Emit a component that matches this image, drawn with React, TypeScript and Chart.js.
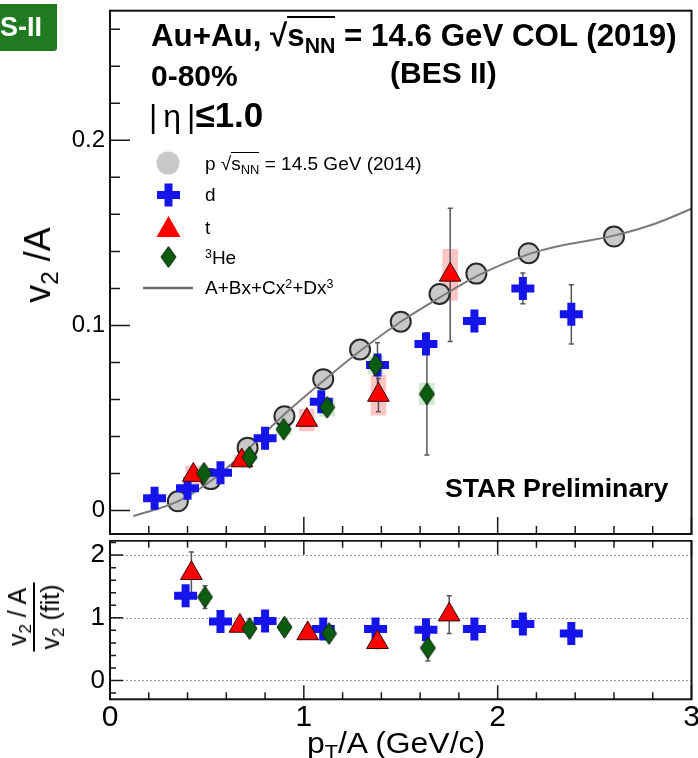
import React, { useEffect, useRef } from "react";
import { Chart, registerables } from "chart.js";

Chart.register(...registerables);

// ---------------- data ----------------
const xTickValues = [0, 1, 2, 3];
const xTickLabels = ["0", "1", "2", "3"];
const topYTickValues = [0, 0.1, 0.2];
const topYTickLabels = ["0", "0.1", "0.2"];
const ratioYTickValues = [0, 1, 2];
const ratioYTickLabels = ["0", "1", "2"];

// proton v2/A (14.5 GeV, 2014)
const protonPt = [0.35, 0.52, 0.71, 0.9, 1.1, 1.29, 1.5, 1.7, 1.89, 2.16, 2.6];
const protonV2 = [0.005, 0.017, 0.034, 0.051, 0.071, 0.087, 0.102, 0.117, 0.128, 0.139, 0.148];

// fit curve A+Bx+Cx^2+Dx^3
const fitPt = [0.12, 0.35, 0.52, 0.71, 0.9, 1.1, 1.3, 1.5, 1.7, 1.9, 2.16, 2.3, 2.45, 2.6, 2.8, 3.0];
const fitV2 = [-0.003, 0.005, 0.016, 0.033, 0.052, 0.07, 0.087, 0.102, 0.115, 0.127, 0.1385, 0.1425, 0.1455, 0.1485, 0.1545, 0.163];

// deuteron
const dPt = [0.23, 0.4, 0.57, 0.8, 1.09, 1.38, 1.63, 1.88, 2.13, 2.38];
const dV2 = [0.0066, 0.012, 0.0204, 0.039, 0.0588, 0.0786, 0.09, 0.1024, 0.12, 0.106];
const dErr = [0.001, 0.001, 0.001, 0.002, 0.003, 0.012, 0.004, 0.004, 0.0083, 0.016];

// triton
const tPt = [0.43, 0.68, 1.015, 1.385, 1.755];
const tV2 = [0.0192, 0.027, 0.0489, 0.0624, 0.1273];
const tErr = [0.002, 0.002, 0.003, 0.009, 0.036];
const tSys = [0.005, 0.003, 0.006, 0.011, 0.014];

// 3He
const hePt = [0.485, 0.72, 0.896, 1.12, 1.37, 1.635];
const heV2 = [0.0201, 0.0288, 0.0439, 0.0558, 0.0786, 0.063];
const heErr = [0.002, 0.002, 0.002, 0.003, 0.004, 0.033];
const heSys = [0.002, 0.002, 0.003, 0.005, 0.005, 0.006];

// ratio panel v2/A / v2(fit)
const rdPt = [0.39, 0.57, 0.8, 1.1, 1.37, 1.63, 1.88, 2.13, 2.38];
const rdVal = [1.35, 0.94, 0.95, 0.82, 0.82, 0.81, 0.82, 0.9, 0.75];
const rdErr = [0.05, 0.04, 0.04, 0.05, 0.1, 0.05, 0.04, 0.06, 0.1];

const rtPt = [0.42, 0.67, 1.02, 1.38, 1.75];
const rtVal = [1.71, 0.87, 0.75, 0.61, 1.05];
const rtErr = [0.34, 0.06, 0.06, 0.1, 0.3];

const rhPt = [0.49, 0.72, 0.9, 1.13, 1.64];
const rhVal = [1.33, 0.83, 0.85, 0.75, 0.52];
const rhErr = [0.18, 0.06, 0.05, 0.06, 0.21];

// ---------------- styles ----------------
const FONT = "'Liberation Sans', Arial, Helvetica, sans-serif";
const BLUE = "rgb(20,20,235)";
const RED = "rgb(255,0,0)";
const GREEN = "rgb(10,92,14)";
const GRAY = "rgb(200,200,200)";
const ERRC = "#555";

const pts = (xs: number[], ys: number[]) => xs.map((x, i) => ({ x, y: ys[i] }));

function diamondImage(w: number, h: number): HTMLCanvasElement {
  const c = document.createElement("canvas");
  c.width = w + 2;
  c.height = h + 2;
  const g = c.getContext("2d")!;
  g.beginPath();
  g.moveTo(c.width / 2, 1);
  g.lineTo(c.width - 1, c.height / 2);
  g.lineTo(c.width / 2, c.height - 1);
  g.lineTo(1, c.height / 2);
  g.closePath();
  g.fillStyle = GREEN;
  g.fill();
  g.lineWidth = 1;
  g.strokeStyle = "#102010";
  g.stroke();
  return c;
}

type ErrSet = { xs: number[]; ys: number[]; errs: number[] };
type BoxSet = { xs: number[]; ys: number[]; sys: number[]; half: number; color: string };
type TickSpec = {
  xMajor: number[]; xMinor: number[]; yMajor: number[]; yMinor: number[];
  xMajLen: number; xMinLen: number; yMajLen: number; yMinLen: number; xTop: boolean;
  grid: number[];
};

function range(a: number, b: number, s: number) {
  const out: number[] = [];
  for (let v = a; v <= b + 1e-9; v += s) out.push(Math.round(v * 1000) / 1000);
  return out;
}

function panelPlugin(id: string, boxes: BoxSet[], errs: ErrSet[], ticks: TickSpec, extra?: (c: Chart) => void) {
  return {
    id,
    beforeDatasetsDraw(chart: any) {
      const { ctx, chartArea: a } = chart;
      const x = chart.scales.x, y = chart.scales.y;
      ctx.save();
      ctx.beginPath();
      ctx.rect(a.left, a.top, a.right - a.left, a.bottom - a.top);
      ctx.clip();
      // dotted grid
      ctx.strokeStyle = "#9a9a9a";
      ctx.lineWidth = 1;
      ctx.setLineDash([2, 2]);
      for (const g of ticks.grid) {
        const py = Math.round(y.getPixelForValue(g)) + 0.5;
        ctx.beginPath();
        ctx.moveTo(a.left, py);
        ctx.lineTo(a.right, py);
        ctx.stroke();
      }
      ctx.setLineDash([]);
      for (const b of boxes) {
        ctx.fillStyle = b.color;
        b.xs.forEach((xv, i) => {
          const x0 = x.getPixelForValue(xv - b.half), x1 = x.getPixelForValue(xv + b.half);
          const y0 = y.getPixelForValue(b.ys[i] + b.sys[i]), y1 = y.getPixelForValue(b.ys[i] - b.sys[i]);
          ctx.fillRect(x0, y0, x1 - x0, y1 - y0);
        });
      }
      ctx.strokeStyle = ERRC;
      ctx.lineWidth = 1.5;
      for (const e of errs) {
        e.xs.forEach((xv, i) => {
          const px = x.getPixelForValue(xv);
          const y0 = y.getPixelForValue(e.ys[i] + e.errs[i]), y1 = y.getPixelForValue(e.ys[i] - e.errs[i]);
          ctx.beginPath();
          ctx.moveTo(px, y0); ctx.lineTo(px, y1);
          ctx.moveTo(px - 2.5, y0); ctx.lineTo(px + 2.5, y0);
          ctx.moveTo(px - 2.5, y1); ctx.lineTo(px + 2.5, y1);
          ctx.stroke();
        });
      }
      ctx.restore();
    },
    afterDatasetsDraw(chart: any) {
      if (extra) extra(chart);
    },
    afterDraw(chart: any) {
      const { ctx, chartArea: a } = chart;
      const x = chart.scales.x, y = chart.scales.y;
      ctx.save();
      ctx.strokeStyle = "#1a1a1a";
      ctx.lineWidth = 1.5;
      ctx.beginPath();
      for (const v of ticks.xMinor) {
        const px = x.getPixelForValue(v);
        const len = ticks.xMajor.includes(v) ? ticks.xMajLen : ticks.xMinLen;
        ctx.moveTo(px, a.bottom); ctx.lineTo(px, a.bottom - len);
        if (ticks.xTop) { ctx.moveTo(px, a.top); ctx.lineTo(px, a.top + len); }
      }
      for (const v of ticks.yMinor) {
        const py = y.getPixelForValue(v);
        if (py < a.top - 0.5 || py > a.bottom + 0.5) continue;
        const len = ticks.yMajor.some((m) => Math.abs(m - v) < 1e-6) ? ticks.yMajLen : ticks.yMinLen;
        ctx.moveTo(a.left, py); ctx.lineTo(a.left + len, py);
      }
      ctx.stroke();
      ctx.lineWidth = 2;
      ctx.strokeStyle = "#111";
      ctx.strokeRect(a.left, a.top, a.right - a.left, a.bottom - a.top);
      ctx.restore();
    },
  };
}

function drawLegendMarkers(chart: any, diamond: HTMLCanvasElement) {
  const ctx = chart.ctx;
  ctx.save();
  // proton circle (no outline in legend)
  ctx.fillStyle = GRAY;
  ctx.beginPath();
  ctx.arc(168, 163, 11.5, 0, Math.PI * 2);
  ctx.fill();
  // cross
  ctx.strokeStyle = BLUE;
  ctx.lineWidth = 8;
  ctx.beginPath();
  ctx.moveTo(157, 195); ctx.lineTo(180, 195);
  ctx.moveTo(168.5, 183.5); ctx.lineTo(168.5, 206.5);
  ctx.stroke();
  // triangle
  ctx.fillStyle = RED;
  ctx.beginPath();
  ctx.moveTo(168.5, 216); ctx.lineTo(180.5, 237); ctx.lineTo(156.5, 237); ctx.closePath();
  ctx.fill();
  // diamond
  ctx.drawImage(diamond, 168.5 - diamond.width / 2, 257 - diamond.height / 2);
  // line
  ctx.strokeStyle = "#6e6e6e";
  ctx.lineWidth = 2.5;
  ctx.beginPath();
  ctx.moveTo(143, 288); ctx.lineTo(193, 288);
  ctx.stroke();
  ctx.restore();
}

function App() {
  const topRef = useRef<HTMLCanvasElement>(null);
  const botRef = useRef<HTMLCanvasElement>(null);

  useEffect(() => {
    const diamond = diamondImage(15, 22);
    const diamondLegend = diamondImage(15, 21);

    const pStyle = { pointStyle: "circle", pointRadius: 10, pointBackgroundColor: GRAY, pointBorderColor: "#2a2a2a", pointBorderWidth: 2, showLine: false };
    const dStyle = { pointStyle: "cross", pointRadius: 11.5, pointBorderColor: BLUE, pointBackgroundColor: BLUE, pointBorderWidth: 8, showLine: false };
    const tStyle = { pointStyle: "triangle", pointRadius: 12.5, pointBackgroundColor: RED, pointBorderColor: "#3a0000", pointBorderWidth: 1, showLine: false };
    const hStyle = { pointStyle: diamond, pointRadius: 10, showLine: false };

    const topTicks: TickSpec = {
      xMajor: xTickValues, xMinor: range(0, 3, 0.2), yMajor: topYTickValues, yMinor: range(0, 0.26, 0.02),
      xMajLen: 17, xMinLen: 8, yMajLen: 20, yMinLen: 10, xTop: false, grid: [],
    };
    const botTicks: TickSpec = {
      xMajor: xTickValues, xMinor: range(0, 3, 0.2), yMajor: ratioYTickValues, yMinor: range(-0.2, 2.2, 0.2),
      xMajLen: 14, xMinLen: 7, yMajLen: 13, yMinLen: 6, xTop: true, grid: ratioYTickValues,
    };

    const noPadY = (w: number) => (s: any) => { s.width = w; s.paddingTop = 0; s.paddingBottom = 0; };
    const noPadX = (h: number) => (s: any) => { s.height = h; s.paddingLeft = 0; s.paddingRight = 0; };

    const top = new Chart(topRef.current!, {
      type: "scatter",
      data: {
        datasets: [
          { label: "p", data: pts(protonPt, protonV2), order: 5, ...pStyle } as any,
          { label: "fit", data: pts(fitPt, fitV2), order: 4, showLine: true, borderColor: "#7a7a7a", borderWidth: 2, pointRadius: 0, cubicInterpolationMode: "monotone", fill: false } as any,
          { label: "d", data: pts(dPt, dV2), order: 3, ...dStyle } as any,
          { label: "t", data: pts(tPt, tV2), order: 2, ...tStyle } as any,
          { label: "3He", data: pts(hePt, heV2), order: 1, ...hStyle } as any,
        ],
      },
      options: {
        animation: false,
        responsive: false,
        events: [],
        layout: { autoPadding: false, padding: { top: 10.7, right: 6.5, bottom: 6, left: 0 } },
        plugins: { legend: { display: false }, tooltip: { enabled: false } },
        scales: {
          x: { type: "linear", min: 0, max: 3, display: false },
          y: {
            type: "linear", min: -0.01265, max: 0.27,
            afterFit: noPadY(110),
            afterBuildTicks: (s: any) => { s.ticks = topYTickValues.map((v) => ({ value: v })); },
            ticks: { callback: (v: any) => topYTickLabels[topYTickValues.findIndex((t) => Math.abs(t - v) < 1e-9)] ?? "", color: "#000", padding: 5, font: { family: FONT, size: 24 } },
            grid: { display: false, drawTicks: false, tickLength: 0 },
            border: { display: false },
          },
        },
      } as any,
      plugins: [
        panelPlugin(
          "topPanel",
          [
            { xs: tPt, ys: tV2, sys: tSys, half: 0.04, color: "rgba(255,90,90,0.35)" },
            { xs: hePt, ys: heV2, sys: heSys, half: 0.04, color: "rgba(60,170,60,0.25)" },
          ],
          [
            { xs: dPt, ys: dV2, errs: dErr },
            { xs: tPt, ys: tV2, errs: tErr },
            { xs: hePt, ys: heV2, errs: heErr },
          ],
          topTicks,
          (c) => drawLegendMarkers(c, diamondLegend)
        ) as any,
      ],
    });

    const bot = new Chart(botRef.current!, {
      type: "scatter",
      data: {
        datasets: [
          { label: "d", data: pts(rdPt, rdVal), order: 3, ...dStyle } as any,
          { label: "t", data: pts(rtPt, rtVal), order: 2, ...tStyle } as any,
          { label: "3He", data: pts(rhPt, rhVal), order: 1, ...hStyle } as any,
        ],
      },
      options: {
        animation: false,
        responsive: false,
        events: [],
        layout: { autoPadding: false, padding: { top: 0.7, right: 6.5, bottom: 0, left: 0 } },
        plugins: { legend: { display: false }, tooltip: { enabled: false } },
        scales: {
          x: {
            type: "linear", min: 0, max: 3,
            afterFit: noPadX(58.7),
            afterBuildTicks: (s: any) => { s.ticks = xTickValues.map((v) => ({ value: v })); },
            ticks: { callback: (v: any) => xTickLabels[xTickValues.indexOf(Math.round(v))] ?? "", color: "#000", padding: 0, maxRotation: 0, font: { family: FONT, size: 30 } },
            grid: { display: false, drawTicks: false, tickLength: 0 },
            border: { display: false },
          },
          y: {
            type: "linear", min: -0.3, max: 2.23,
            afterFit: noPadY(110),
            afterBuildTicks: (s: any) => { s.ticks = ratioYTickValues.map((v) => ({ value: v })); },
            ticks: { callback: (v: any) => ratioYTickLabels[ratioYTickValues.indexOf(Math.round(v))] ?? "", color: "#000", padding: 5, font: { family: FONT, size: 26 } },
            grid: { display: false, drawTicks: false, tickLength: 0 },
            border: { display: false },
          },
        },
      } as any,
      plugins: [
        panelPlugin(
          "botPanel",
          [],
          [
            { xs: rdPt, ys: rdVal, errs: rdErr },
            { xs: rtPt, ys: rtVal, errs: rtErr },
            { xs: rhPt, ys: rhVal, errs: rhErr },
          ],
          botTicks
        ) as any,
      ],
    });

    return () => {
      top.destroy();
      bot.destroy();
    };
  }, []);

  const abs = (s: React.CSSProperties): React.CSSProperties => ({
    position: "absolute", fontFamily: FONT, color: "#000", whiteSpace: "nowrap", lineHeight: 1, margin: 0, ...s,
  });
  const sub: React.CSSProperties = { fontSize: "68%", position: "relative", top: "0.32em" };
  const sup: React.CSSProperties = { fontSize: "65%", position: "relative", top: "-0.5em" };

  return (
    <div style={{ position: "absolute", left: 0, top: 0, width: 698, height: 758, background: "#fff", overflow: "hidden" }}>
      <canvas ref={topRef} width={698} height={540} style={{ position: "absolute", left: 0, top: 0, width: 698, height: 540 }} />
      <canvas ref={botRef} width={698} height={218} style={{ position: "absolute", left: 0, top: 540, width: 698, height: 218 }} />

      {/* badge */}
      <div style={{ position: "absolute", left: 0, top: 4, width: 57, height: 47, background: "#1f7a22", borderBottomRightRadius: 3 }} />
      <div style={abs({ left: 0, top: 14, fontSize: 27, fontWeight: 700, color: "#fff" })}>S-II</div>

      {/* header */}
      <div style={abs({ left: 151, top: 20, fontSize: 31.3, fontWeight: 700 })}>
        Au+Au, √<span style={{ borderTop: "2.5px solid #000" }}>s<span style={sub}>NN</span></span> = 14.6 GeV COL (2019)
      </div>
      <div style={abs({ left: 151, top: 61, fontSize: 30, fontWeight: 700 })}>0-80%</div>
      <div style={abs({ left: 390, top: 58, fontSize: 30, fontWeight: 700 })}>(BES II)</div>
      <div style={abs({ left: 149, top: 97, fontSize: 32 })}>
        <span style={{ fontWeight: 400 }}>|</span>
        <span style={{ fontWeight: 400, padding: "0 6px" }}>η</span>
        <span style={{ fontWeight: 400 }}>|</span>
        <span style={{ fontWeight: 700, fontSize: 35 }}>≤1.0</span>
      </div>

      {/* legend text */}
      <div style={abs({ left: 205, top: 154, fontSize: 19 })}>
        p √<span style={{ borderTop: "1.5px solid #000" }}>s<span style={sub}>NN</span></span> = 14.5 GeV (2014)
      </div>
      <div style={abs({ left: 205, top: 185, fontSize: 19 })}>d</div>
      <div style={abs({ left: 205, top: 218, fontSize: 19 })}>t</div>
      <div style={abs({ left: 205, top: 248, fontSize: 19 })}>
        <span style={sup}>3</span>He
      </div>
      <div style={abs({ left: 205, top: 278, fontSize: 19 })}>
        A+Bx+Cx<span style={sup}>2</span>+Dx<span style={sup}>3</span>
      </div>

      <div style={abs({ left: 445, top: 475, fontSize: 26.7, fontWeight: 700 })}>STAR Preliminary</div>

      {/* y title top */}
      <div style={abs({ left: 38, top: 265, fontSize: 36, transform: "translate(-50%,-50%) rotate(-90deg)" })}>
        v<span style={sub}>2</span> /A
      </div>

      {/* y title bottom (fraction) */}
      <div style={abs({ left: 34, top: 617, fontSize: 25, transform: "translate(-50%,-50%) rotate(-90deg)" })}>
        <div style={{ display: "inline-flex", flexDirection: "column", alignItems: "center" }}>
          <div style={{ padding: "0 4px 3px 4px" }}>v<span style={sub}>2</span> / A</div>
          <div style={{ borderTop: "2px solid #000", padding: "3px 2px 0 2px" }}>v<span style={sub}>2</span> (fit)</div>
        </div>
      </div>

      {/* x title */}
      <div style={abs({ left: 396, top: 743, fontSize: 29, transform: "translate(-50%,-50%) scaleX(1.1)" })}>
        p<span style={sub}>T</span>/A (GeV/c)
      </div>
    </div>
  );
}

export default App;
